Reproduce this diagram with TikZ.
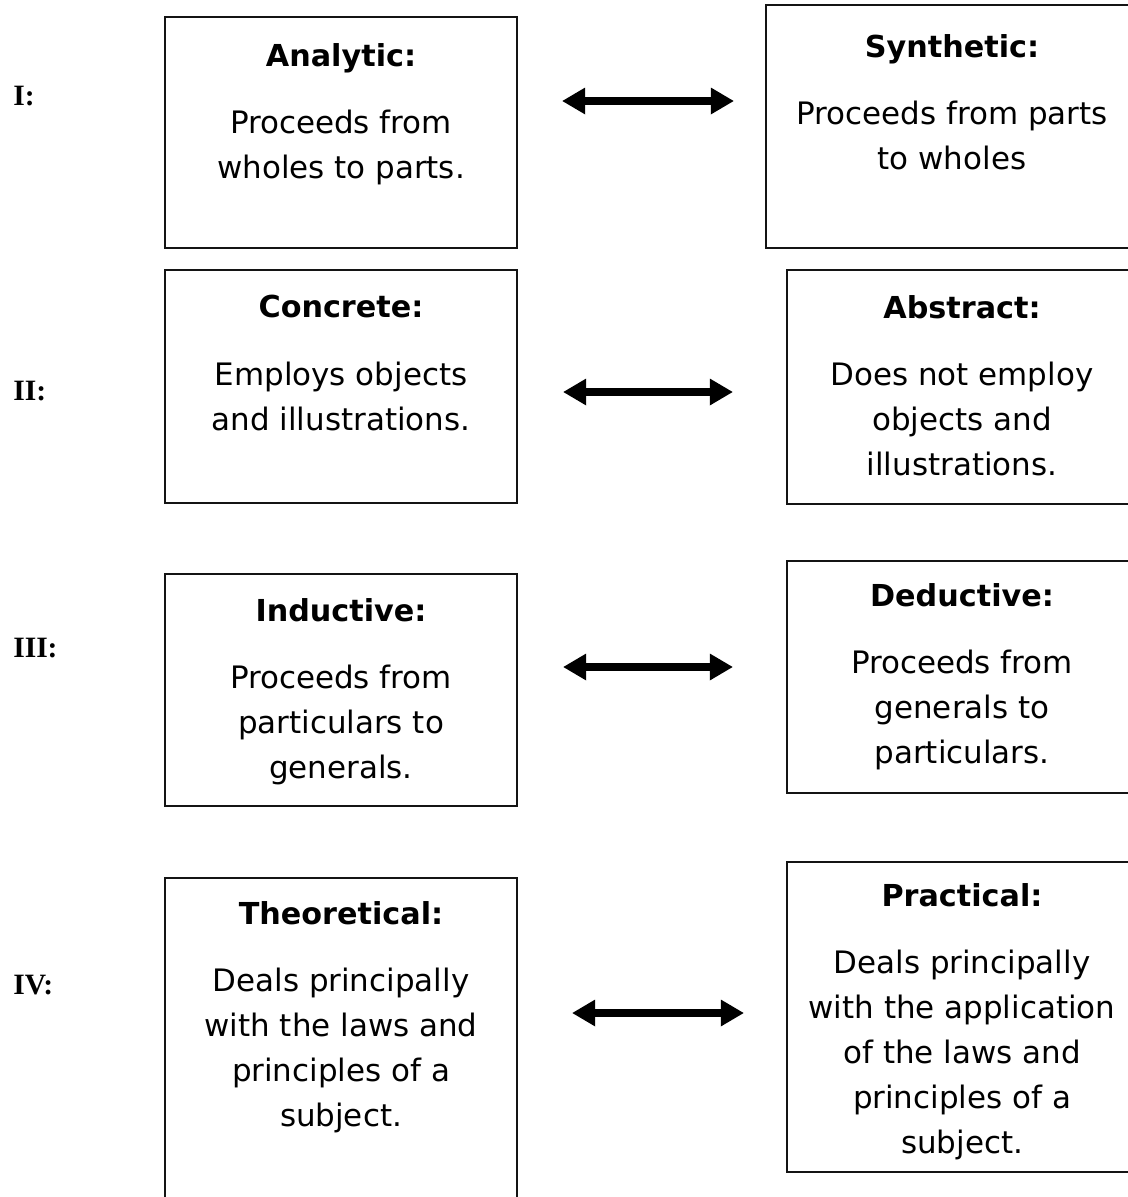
\documentclass[tikz,border=0pt]{standalone}
\usepackage{fontspec}
\usetikzlibrary{positioning,arrows.meta}
\newfontfamily\boxfont{DejaVu Sans}
\newfontfamily\romfont{Liberation Serif}
\definecolor{BoxLine}{RGB}{20,20,20}
\tikzset{
  box/.style={draw=BoxLine,line width=1.1pt,rectangle,outer sep=0pt,inner sep=0pt,anchor=north west},
  boxtext/.style={align=center,inner sep=0pt,anchor=north,font=\boxfont\fontsize{22}{32}\selectfont},
  rowlabel/.style={anchor=west,inner sep=0pt,font=\romfont\bfseries\fontsize{21}{24}\selectfont},
  twoway/.style={arrows={Triangle[length=0.58cm,width=0.63cm]-Triangle[length=0.58cm,width=0.63cm]},line width=5pt}
}
\newcommand{\boxhead}[1]{{\fontsize{21.5}{32}\selectfont\bfseries #1}\\[16pt]}

\begin{document}
\begin{tikzpicture}[x=0.025cm,y=-0.025cm]
  \useasboundingbox (0,0) rectangle (1128,1197);

  % row I
  \node[rowlabel] (lab1) at (13,96) {I:};
  \node[box,minimum width=8.8cm,minimum height=5.775cm] (anal) at (165,17) {};
  \node[box,minimum width=9.3cm,minimum height=6.075cm] (synth) at (766,5) {};
  \node[boxtext] (analtxt) at (341,43) {\boxhead{Analytic:}Proceeds from\\wholes to parts.};
  \node[boxtext] (synthtxt) at (952,34) {\boxhead{Synthetic:}Proceeds from parts\\to wholes};

  % row II
  \node[rowlabel] (lab2) at (13,391) {II:};
  \node[box,minimum width=8.8cm,minimum height=5.825cm] (concr) at (165,270) {};
  \node[box,minimum width=8.75cm,minimum height=5.85cm] (abstr) at (787,270) {};
  \node[boxtext] (concrtxt) at (341,295) {\boxhead{Concrete:}Employs objects\\and illustrations.};
  \node[boxtext] (abstrtxt) at (962,295) {\boxhead{Abstract:}Does not employ\\objects and\\illustrations.};

  % row III
  \node[rowlabel] (lab3) at (13,648) {III:};
  \node[box,minimum width=8.8cm,minimum height=5.8cm] (induct) at (165,574) {};
  \node[box,minimum width=8.75cm,minimum height=5.8cm] (deduct) at (787,561) {};
  \node[boxtext] (inducttxt) at (341,598) {\boxhead{Inductive:}Proceeds from\\particulars to\\generals.};
  \node[boxtext] (deducttxt) at (962,583) {\boxhead{Deductive:}Proceeds from\\generals to\\particulars.};

  % row IV
  \node[rowlabel] (lab4) at (13,985) {IV:};
  \node[box,minimum width=8.8cm,minimum height=8.5cm] (theor) at (165,878) {};
  \node[box,minimum width=8.75cm,minimum height=7.75cm] (pract) at (787,862) {};
  \node[boxtext] (theortxt) at (341,901) {\boxhead{Theoretical:}Deals principally\\with the laws and\\principles of a\\subject.};
  \node[boxtext] (practtxt) at (962,883) {\boxhead{Practical:}Deals principally\\with the application\\of the laws and\\principles of a\\subject.};

  % arrows between the columns
  \coordinate (a1w) at (562,101);  \coordinate (a1e) at (734,101);
  \coordinate (a2w) at (563,392);  \coordinate (a2e) at (733,392);
  \coordinate (a3w) at (563,667);  \coordinate (a3e) at (733,667);
  \coordinate (a4w) at (572,1013); \coordinate (a4e) at (744,1013);
  \draw[twoway] (a1w) -- (a1e);
  \draw[twoway] (a2w) -- (a2e);
  \draw[twoway] (a3w) -- (a3e);
  \draw[twoway] (a4w) -- (a4e);
\end{tikzpicture}
\end{document}
